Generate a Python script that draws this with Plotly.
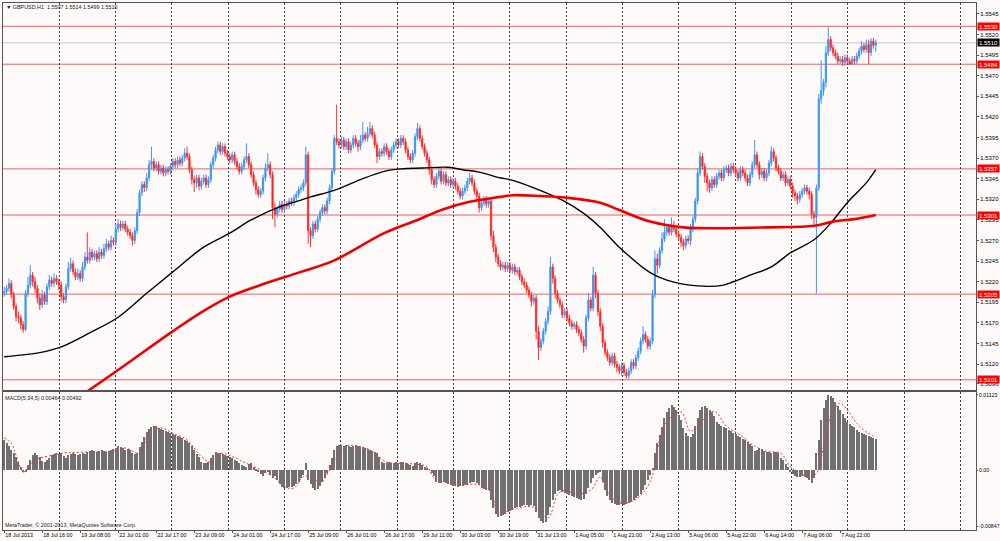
import plotly.graph_objects as go

# prices are stored in pips above 1.5000 (1 pip = 0.0001)
opens = [206,208,212,218,205,190,178,176,168,162,206,216,228,220,212,200,192,204,196,214,222,218,224,220,
         216,202,198,214,236,242,232,226,230,224,238,250,246,256,250,254,248,256,252,260,266,262,270,268,
         284,290,286,290,284,280,276,270,282,304,328,338,334,346,362,366,358,362,354,358,352,356,354,360,
         366,362,368,364,370,376,372,356,344,340,346,336,342,346,338,344,362,370,380,386,378,384,376,372,
         368,374,366,360,354,360,368,372,362,350,340,332,326,330,346,358,362,350,310,302,308,314,308,314,
         312,318,316,322,326,332,334,340,374,282,276,290,284,296,304,310,306,318,334,354,394,390,386,392,
         384,390,380,386,394,388,384,392,398,394,400,406,398,386,372,378,376,384,378,372,380,386,390,386,
         394,390,380,372,368,376,396,406,394,384,376,368,356,344,338,348,354,342,350,340,344,338,342,336,
         330,324,330,334,342,346,340,330,324,310,316,320,314,318,276,262,250,242,238,240,236,240,234,238,
         232,234,226,220,216,210,204,196,200,160,140,148,160,172,184,238,224,206,198,192,180,184,176,170,
         166,168,162,158,150,142,176,198,188,228,206,184,166,146,134,128,122,130,120,116,112,118,110,106,
         112,122,118,128,136,148,156,150,142,148,204,248,240,258,272,280,286,280,288,284,278,274,268,264,
         272,270,284,296,318,352,372,360,348,340,334,344,338,348,352,346,356,358,352,360,356,352,346,356,
         352,346,340,350,362,374,362,350,354,346,352,364,378,370,358,354,346,350,340,344,336,328,324,320,
         326,330,334,330,326,302,298,334,442,452,462,498,514,504,498,494,488,490,486,492,488,484,490,488,
         494,500,506,502,508,498,512,507]
highs = [214,216,224,222,208,194,184,180,172,210,226,240,232,226,216,206,210,208,218,228,226,230,228,224,
         220,206,218,244,249,246,236,236,234,244,256,280,262,260,258,258,262,260,266,272,270,276,274,290,
         296,294,294,294,288,284,280,286,308,332,342,342,352,368,384,370,366,366,362,362,360,360,364,370,
         370,372,372,374,382,384,376,360,348,350,350,346,350,350,348,366,374,384,390,390,388,388,380,376,
         378,378,370,364,364,372,388,376,366,354,344,336,334,350,364,376,366,354,316,312,318,318,318,318,
         322,322,326,330,336,338,344,384,378,286,294,294,300,308,314,314,322,338,358,398,435,394,396,396,
         394,394,390,398,398,392,398,414,402,408,414,410,402,390,382,382,388,388,382,384,390,394,394,398,
         398,394,384,376,380,400,413,410,398,388,380,372,360,348,352,358,358,354,354,348,348,346,346,340,
         334,334,338,346,352,350,344,334,328,320,324,324,322,322,282,266,254,246,244,244,244,244,242,242,
         238,238,230,224,220,214,208,204,204,166,152,164,176,190,250,242,228,210,202,196,188,188,180,174,
         172,172,166,162,154,180,206,202,238,232,210,188,170,150,138,132,134,134,124,120,122,122,114,116,
         126,126,132,140,152,166,160,154,152,210,258,254,262,280,296,290,290,298,294,288,282,278,272,276,
         276,290,300,322,358,378,376,364,352,344,348,348,352,356,356,360,362,362,364,364,360,356,360,360,
         356,350,354,366,392,378,366,358,358,356,368,384,382,374,362,358,354,354,348,348,340,332,328,330,
         334,338,338,334,330,306,338,448,489,466,506,529,518,508,502,498,494,494,496,496,492,494,494,498,
         504,512,510,514,514,516,516,514]
lows = [202,204,208,200,186,172,170,162,158,160,202,212,214,206,194,186,188,192,192,210,214,214,216,210,
        196,194,194,210,232,228,222,222,220,220,234,242,242,246,246,244,244,248,248,256,258,258,264,264,
        280,282,282,280,276,272,264,266,278,300,324,329,330,342,356,354,354,350,350,348,348,350,350,356,
        358,358,360,360,366,368,352,338,329,334,331,332,338,334,334,340,358,366,376,374,374,372,368,364,
        364,362,356,350,350,356,364,358,346,336,326,322,322,326,342,354,346,296,286,298,304,304,304,308,
        308,312,312,318,322,328,330,336,266,262,272,280,280,292,300,302,302,314,330,350,386,382,382,380,
        380,376,376,382,384,378,380,388,390,390,396,394,382,364,368,372,372,374,368,368,376,382,382,382,
        386,376,368,364,364,372,392,390,380,372,364,350,338,334,334,344,338,338,336,336,334,334,332,326,
        320,320,326,330,338,336,326,318,304,306,312,310,310,270,256,244,238,234,234,232,232,230,230,228,
        228,222,216,212,206,200,190,192,150,125,136,144,156,168,180,218,200,194,188,176,176,172,166,162,
        162,158,154,146,134,138,172,184,184,200,178,160,140,130,124,118,118,116,110,108,106,106,103,102,
        108,114,114,124,132,144,146,138,138,144,200,230,236,254,268,276,276,276,280,274,270,262,258,260,
        266,264,280,292,314,348,356,340,330,328,330,334,334,344,342,342,352,348,348,352,348,342,342,348,
        342,336,336,346,358,358,344,346,342,342,348,360,366,354,350,342,342,336,336,332,322,318,314,316,
        322,326,326,320,296,290,206,330,436,446,456,494,500,494,490,484,484,482,482,484,483,484,484,484,
        490,496,498,498,484,494,503,499]
closes = [208,212,218,205,190,178,176,168,162,206,216,228,220,212,200,192,204,196,214,222,218,224,220,216,
          202,198,214,236,242,232,226,230,224,238,250,246,256,250,254,248,256,252,260,266,262,270,268,284,
          290,286,290,284,280,276,270,282,304,328,338,334,346,362,366,358,362,354,358,352,356,354,360,366,
          362,368,364,370,376,372,356,344,340,346,336,342,346,338,344,362,370,380,386,378,384,376,372,368,
          374,366,360,354,360,368,372,362,350,340,332,326,330,346,358,362,350,310,302,308,314,308,314,312,
          318,316,322,326,332,334,340,374,282,276,290,284,296,304,310,306,318,334,354,394,390,386,392,384,
          390,380,386,394,388,384,392,398,394,400,406,398,386,372,378,376,384,378,372,380,386,390,386,394,
          390,380,372,368,376,396,406,394,384,376,368,356,344,338,348,354,342,350,340,344,338,342,336,330,
          324,330,334,342,346,340,330,324,310,316,320,314,318,276,262,250,242,238,240,236,240,234,238,232,
          234,226,220,216,210,204,196,200,160,140,148,160,172,184,238,224,206,198,192,180,184,176,170,166,
          168,162,158,150,142,176,198,188,228,206,184,166,146,134,128,122,130,120,116,112,118,110,106,112,
          122,118,128,136,148,156,150,142,148,204,248,240,258,272,280,286,280,288,284,278,274,268,264,272,
          270,284,296,318,352,372,360,348,340,334,344,338,348,352,346,356,358,352,360,356,352,346,356,352,
          346,340,350,362,374,362,350,354,346,352,364,378,370,358,354,346,350,340,344,336,328,324,320,326,
          330,334,330,326,302,298,334,442,452,462,498,514,504,498,494,488,490,486,492,488,484,490,488,494,
          500,506,502,508,498,512,507,510]

# moving averages (bar index, pips)
ma_black_bar = [0,7,15,24,36,48,60,71,84,95,104,117,125,129,139,150,160,167,176,187,
                193,200,209,213,223,235,244,251,259,272,279,292,303,307,314,323,331,341,348,355,363,367]
ma_black = [129,131,134,141,158,177,206,232,262,279,295,312,319,323,331,344,354,357,358,359,
            356,353,346,344,334,319,303,286,262,231,222,215,216,220,228,238,255,271,291,316,340,356]
ma_red_bar = [30,49,70,83,95,108,125,139,160,174,185,196,209,214,226,237,251,259,272,286,304,321,341,349,358,367]
ma_red = [77,115,158,183,202,216,232,246,279,295,308,317,323,325,324,322,316,307,293,286,285,286,288,293,296,301]

# MACD histogram in pips, signal line samples
macd = [45,40,36,30,25,20,12,4,-2,-3,8,15,22,25,22,20,14,12,15,18,22,24,25,24,
        25,21,18,22,24,25,24,22,24,25,24,27,28,30,28,27,28,30,28,27,28,30,32,33,
        36,34,33,30,32,30,25,24,25,34,42,49,57,61,64,66,66,63,61,60,58,57,55,54,
        52,51,49,48,45,43,40,36,30,24,20,12,10,10,12,18,22,27,25,25,24,22,21,20,
        18,15,14,10,8,6,4,9,10,4,2,-3,-6,-9,-4,-3,-8,-12,-9,-15,-21,-25,-27,-27,
        -25,-25,-24,-21,-18,-12,-8,10,-15,-21,-27,-30,-28,-24,-18,-12,-4,8,18,30,36,37,37,36,
        37,36,34,36,37,36,34,34,33,32,30,28,27,25,20,12,10,10,12,10,10,12,10,12,
        12,10,9,8,6,10,12,10,8,4,3,0,-4,-9,-18,-19,-19,-18,-19,-21,-22,-24,-24,-25,
        -24,-24,-22,-21,-19,-18,-18,-19,-22,-27,-28,-30,-30,-45,-57,-66,-70,-69,-67,-66,-63,-61,-60,-57,
        -55,-55,-54,-52,-52,-54,-52,-54,-63,-72,-76,-79,-78,-67,-55,-45,-36,-31,-30,-33,-34,-36,-37,-39,
        -40,-42,-43,-45,-43,-36,-27,-19,-12,-8,-4,-3,-18,-30,-39,-45,-49,-51,-52,-52,-51,-52,-51,-49,
        -48,-45,-42,-39,-36,-30,-22,-15,-8,3,25,40,52,64,78,87,93,97,94,90,82,75,63,55,
        51,49,54,66,78,90,94,96,93,90,87,81,72,69,66,64,63,60,58,55,54,51,49,46,
        45,42,39,36,28,30,33,31,28,27,27,25,27,27,25,18,15,9,4,-3,-6,-9,-10,-10,
        -9,-10,-12,-15,-19,-12,25,45,75,93,105,112,111,108,102,96,90,84,78,72,69,66,64,60,
        57,55,54,52,51,49,48,46]
sig_bar = [0,3,5,8,10,12,15,19,24,35,46,51,57,61,66,71,77,83,87,91,
           96,102,108,114,118,122,126,130,133,137,140,144,150,155,161,167,172,178,181,187,
           192,200,205,208,213,219,224,229,233,236,241,247,251,254,259,265,270,273,276,279,
           285,289,293,299,304,310,315,321,327,331,335,339,342,345,348,352,355,359,363,367]
sig_val = [48,40,22,-3,3,12,18,21,25,27,28,33,25,55,63,55,45,20,12,25,
           20,10,0,-12,-25,-27,-10,-10,-20,0,20,36,35,28,12,10,9,5,-12,-19,
           -22,-22,-33,-64,-60,-55,-57,-72,-37,-30,-36,-30,-10,-33,-49,-46,-30,-8,45,72,
           87,58,70,88,66,52,38,28,25,5,-5,-10,-5,35,80,100,90,70,57,49]

levels = [1.5530, 1.5484, 1.5357, 1.5301, 1.5205, 1.5101]
bid = 1.5510
price_ticks = [1.5545, 1.5520, 1.5495, 1.5470, 1.5445, 1.5420, 1.5395, 1.5370, 1.5345, 1.5320,
               1.5295, 1.5270, 1.5245, 1.5220, 1.5195, 1.5170, 1.5145, 1.5120, 1.5096]
macd_ticks = [0.01123, 0.0, -0.00847]
macd_tick_text = ["0.01123", "0.00", "-0.00847"]
time_labels = ["18 Jul 2013", "18 Jul 16:00", "19 Jul 08:00", "22 Jul 01:00", "22 Jul 17:00",
               "23 Jul 09:00", "24 Jul 01:00", "24 Jul 17:00", "25 Jul 09:00", "26 Jul 01:00",
               "26 Jul 17:00", "29 Jul 11:00", "30 Jul 03:00", "30 Jul 19:00", "31 Jul 13:00",
               "1 Aug 05:00", "1 Aug 21:00", "2 Aug 13:00", "5 Aug 06:00", "5 Aug 22:00",
               "6 Aug 14:00", "7 Aug 06:00", "7 Aug 22:00"]

def px(v):
    return [1.5 + p / 10000 for p in v]

bars = list(range(len(closes)))
font = "Liberation Sans, Arial, sans-serif"

fig = go.Figure()
fig.add_trace(go.Candlestick(x=bars, open=px(opens), high=px(highs), low=px(lows), close=px(closes),
                             increasing=dict(line=dict(color="#3d97f5", width=1), fillcolor="#1e90ff"),
                             decreasing=dict(line=dict(color="#ff3030", width=1), fillcolor="#ff0000"),
                             whiskerwidth=0, showlegend=False, xaxis="x", yaxis="y"))
fig.add_trace(go.Scatter(x=ma_black_bar, y=px(ma_black), mode="lines", line=dict(color="black", width=1.4, shape="spline"),
                         showlegend=False, xaxis="x", yaxis="y"))
fig.add_trace(go.Scatter(x=ma_red_bar, y=px(ma_red), mode="lines", line=dict(color="#ee0000", width=2.6, shape="spline"),
                         showlegend=False, xaxis="x", yaxis="y"))
fig.add_trace(go.Bar(x=bars, y=[m / 10000 for m in macd], width=0.45, marker=dict(color="#707070", line=dict(width=0)),
                     showlegend=False, xaxis="x2", yaxis="y2"))
fig.add_trace(go.Scatter(x=sig_bar, y=[s / 10000 for s in sig_val], mode="lines",
                         line=dict(color="#ff3030", width=1, dash="2px,2px", shape="spline"),
                         showlegend=False, xaxis="x2", yaxis="y2"))

# horizontal levels and the bid line
for lv in levels:
    fig.add_shape(type="line", xref="x domain", x0=0, x1=1, yref="y", y0=lv, y1=lv,
                  line=dict(color="#f25c5c", width=1), layer="below")
    fig.add_annotation(xref="paper", x=1, xshift=1, xanchor="left", yref="y", y=lv, text=f"{lv:.4f}",
                       showarrow=False, bgcolor="#ff0000", font=dict(color="white", size=6, family=font),
                       borderpad=0, width=21, height=7)
fig.add_shape(type="line", xref="x domain", x0=0, x1=1, yref="y", y0=bid, y1=bid,
              line=dict(color="#c8c8c8", width=1), layer="below")
fig.add_annotation(xref="paper", x=1, xshift=1, xanchor="left", yref="y", y=bid, text=f"{bid:.4f}",
                   showarrow=False, bgcolor="#000000", font=dict(color="white", size=6, family=font),
                   borderpad=0, width=21, height=7)

# texts
fig.add_annotation(xref="paper", yref="paper", x=0.001, y=0.992, xanchor="left", yanchor="middle",
                   text="▼ GBPUSD,H1  1.5507 1.5514 1.5499 1.5510", showarrow=False,
                   font=dict(size=5.4, color="#202020", family=font))
fig.add_annotation(xref="paper", yref="paper", x=0.0, y=0.2505, xanchor="left", yanchor="middle",
                   text="MACD(5,34,5) 0.00464 0.00492", showarrow=False,
                   font=dict(size=5.4, color="#202020", family=font))
fig.add_annotation(xref="paper", yref="paper", x=0.0, y=0.01, xanchor="left", yanchor="middle",
                   text="MetaTrader, © 2001-2013, MetaQuotes Software Corp.", showarrow=False,
                   font=dict(size=5.4, color="#202020", family=font))

grid = dict(tick0=23.2, dtick=23.72, showgrid=True, gridcolor="#404040", griddash="2px,2px", gridwidth=1)
frame = dict(showline=True, mirror=True, linecolor="#555555", linewidth=1, zeroline=False, showgrid=False,
             automargin=False)

fig.update_layout(
    width=1000, height=541, autosize=False,
    margin=dict(l=3, r=24, t=3, b=11),
    paper_bgcolor="#fffafa", plot_bgcolor="#fffafa",
    font=dict(family=font, size=6, color="black"),
    xaxis=dict(domain=[0, 1], anchor="y", range=[-0.5, 409.2], showticklabels=False, ticks="",
               rangeslider=dict(visible=False), minor=grid, **frame),
    xaxis2=dict(domain=[0, 1], anchor="y2", matches="x", range=[-0.5, 409.2],
                tickvals=[16 * k for k in range(len(time_labels))], ticktext=time_labels,
                ticklabelposition="outside right", tickangle=0, ticks="outside", ticklen=2, tickcolor="#555555",
                tickfont=dict(size=5.4, family=font), minor=grid, **frame),
    yaxis=dict(domain=[0.2657, 1], anchor="x", side="right", range=[1.50887, 1.55583],
               tickvals=price_ticks, ticktext=[f"{t:.4f}" for t in price_ticks],
               ticks="outside", ticklen=2, tickcolor="#555555", tickfont=dict(size=6, family=font), **frame),
    yaxis2=dict(domain=[0, 0.2619], anchor="x2", side="right", range=[-0.00898, 0.01168],
                tickvals=macd_ticks, ticktext=macd_tick_text,
                ticks="outside", ticklen=1, tickcolor="#555555", tickfont=dict(size=5.2, family=font), **frame),
    bargap=0,
)

# the page body has a default margin; drop it so the figure sits at the window's corner
fig.write_html("out.html", config={"displayModeBar": False},
               post_script="document.body.style.margin='0';")
